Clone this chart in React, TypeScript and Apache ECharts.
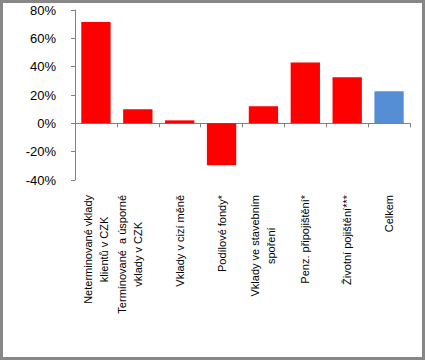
import React, { useEffect, useRef } from "react";
import * as echarts from "echarts";

const categories: string[][] = [
  ["Neterminované vklady", "klientů v CZK"],
  ["Termínované  a úsporné", "vklady v CZK", " "],
  ["Vklady v cizí měně"],
  ["Podílové fondy*"],
  ["Vklady ve stavebním", "spoření"],
  ["Penz. připojištění*"],
  ["Životní pojištění***"],
  ["Celkem"],
];
const values: number[] = [71.5, 9.9, 2.1, -29.5, 12, 43, 32.6, 22.6];
const barColors: string[] = ["#FF0000", "#FF0000", "#FF0000", "#FF0000", "#FF0000", "#FF0000", "#FF0000", "#558ED5"];
const yMin = -40;
const yMax = 80;
const yStep = 20;

export default function App() {
  const ref = useRef<HTMLDivElement>(null);
  useEffect(() => {
    if (!ref.current) return;
    const chart = echarts.init(ref.current, undefined, { renderer: "svg" });
    const catKeys = categories.map((_, i) => String(i));
    chart.setOption({
      animation: false,
      backgroundColor: "#ffffff",
      textStyle: { fontFamily: "Liberation Sans, Arial, sans-serif" },
      grid: { left: 75, right: 15, top: 10, bottom: 180, containLabel: false },
      xAxis: [
        {
          type: "category",
          data: catKeys,
          boundaryGap: true,
          axisLine: { show: true, onZero: true, lineStyle: { color: "#808080", width: 1 } },
          axisTick: { show: true, length: 4, lineStyle: { color: "#808080" } },
          axisLabel: { show: false },
          splitLine: { show: false },
        },
        {
          type: "category",
          data: catKeys,
          position: "bottom",
          boundaryGap: true,
          axisLine: { show: false, onZero: false },
          axisTick: { show: false },
          splitLine: { show: false },
          axisLabel: {
            show: true,
            interval: 0,
            rotate: 90,
            margin: 15,
            color: "#000000",
            fontSize: 11,
            fontFamily: "Liberation Sans, Arial, sans-serif",
            lineHeight: 16,
            formatter: (v: string) => {
              const lines = categories[Number(v)];
              return lines.map((l) => `{a|${l}}`).join("\n");
            },
            rich: {
              a: {
                align: "center",
                fontSize: 11,
                lineHeight: 16,
                color: "#000000",
                fontFamily: "Liberation Sans, Arial, sans-serif",
              },
            },
          },
        },
      ],
      yAxis: {
        type: "value",
        min: yMin,
        max: yMax,
        interval: yStep,
        axisLine: { show: true, lineStyle: { color: "#808080", width: 1 } },
        axisTick: { show: true, length: 4, lineStyle: { color: "#808080" } },
        splitLine: { show: false },
        axisLabel: {
          margin: 19,
          fontSize: 13,
          color: "#000000",
          fontFamily: "Liberation Sans, Arial, sans-serif",
          formatter: (v: number) => `${v}%`,
        },
      },
      series: [
        {
          type: "bar",
          xAxisIndex: 0,
          barWidth: "70%",
          data: values.map((v, i) => ({ value: v, itemStyle: { color: barColors[i] } })),
        },
      ],
      graphic: [
        {
          type: "rect",
          shape: { x: 1.5, y: 1.5, width: 422, height: 357 },
          style: { fill: "none", stroke: "#878787", lineWidth: 3 },
          silent: true,
        },
      ],
    });
    return () => chart.dispose();
  }, []);
  return (
    <div
      ref={ref}
      style={{ position: "fixed", left: 0, top: 0, width: 425, height: 360 }}
    />
  );
}
